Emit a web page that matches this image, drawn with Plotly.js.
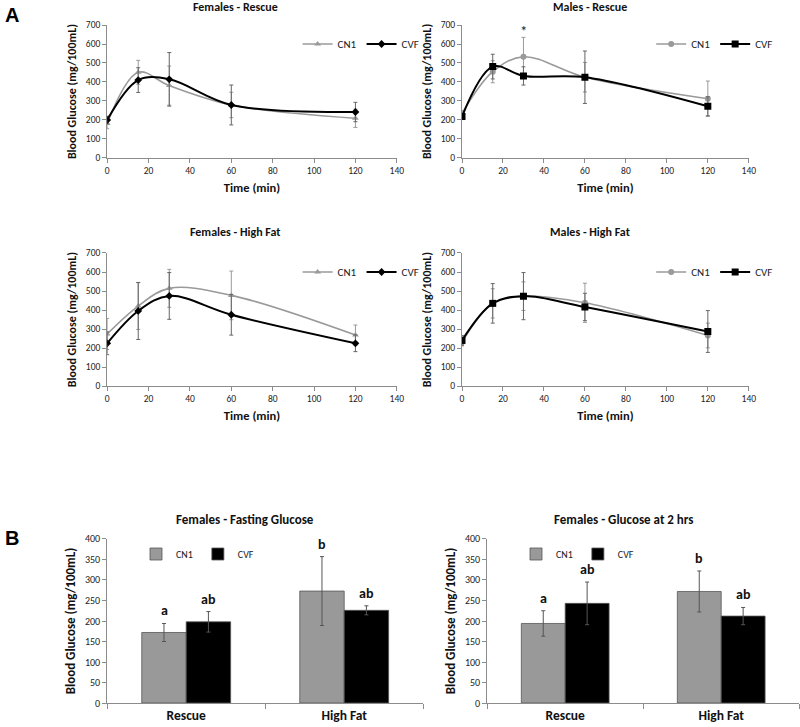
<!DOCTYPE html>
<html><head><meta charset="utf-8">
<script src="https://cdn.plot.ly/plotly-3.0.1.min.js"></script>
<style>html,body{margin:0;padding:0;background:#fff}#chart{width:800px;height:727px}</style>
</head><body><div id="chart"></div>
<script>
// ---- data ----
const times = [0, 15, 30, 60, 120];
const femRescueCN1 = [182, 451, 381, 279, 209];
const femRescueCN1Err = [28, 63, 103, 67, 48];
const femRescueCVF = [200, 410, 414, 279, 242];
const femRescueCVFErr = [20, 65, 141, 105, 51];
const maleRescueCN1 = [235, 454, 533, 425, 312];
const maleRescueCN1Err = [15, 58, 102, 78, 93];
const maleRescueCVF = [218, 481, 432, 425, 272];
const maleRescueCVFErr = [15, 65, 48, 138, 50];
const femHighFatCN1 = [274, 421, 514, 477, 268];
const femHighFatCN1Err = [82, 123, 100, 128, 53];
const femHighFatCVF = [225, 395, 474, 375, 225];
const femHighFatCVFErr = [60, 150, 123, 107, 44];
const maleHighFatCN1 = [231, 435, 473, 438, 266];
const maleHighFatCN1Err = [20, 77, 75, 103, 65];
const maleHighFatCVF = [240, 435, 473, 416, 287];
const maleHighFatCVFErr = [25, 104, 124, 72, 110];

const groups = ['Rescue', 'High Fat'];
const fastingCN1 = [172, 273];
const fastingCN1Err = [22, 84];
const fastingCVF = [198, 226];
const fastingCVFErr = [25, 11];
const twoHrCN1 = [194, 272];
const twoHrCN1Err = [31, 50];
const twoHrCVF = [243, 212];
const twoHrCVFErr = [52, 21];
const fastingLettersCN1 = ['a', 'b'];
const fastingLettersCVF = ['ab', 'ab'];
const twoHrLettersCN1 = ['a', 'b'];
const twoHrLettersCVF = ['ab', 'ab'];

// ---- style ----
const FONT = 'Carlito, Lato, "Liberation Sans", sans-serif';
const GREY = '#9a9a9a';
const AXC = '#8c8c8c';

function lineTrace(y, err, name, color, symbol, size, width, errColor, xa, ya, leg) {
  return {
    type: 'scatter', mode: 'lines+markers', x: times, y: y, name: name,
    xaxis: xa, yaxis: ya, legend: leg,
    line: {color: color, width: width, shape: 'spline', smoothing: 1},
    marker: {color: color, symbol: symbol, size: size},
    error_y: {type: 'data', array: err, visible: true, color: errColor, thickness: 1, width: 2}
  };
}
function barTrace(y, err, name, color, xa, ya, leg) {
  return {
    type: 'bar', x: groups, y: y, name: name, xaxis: xa, yaxis: ya, legend: leg,
    marker: {color: color, line: {color: '#555', width: 0.8}},
    error_y: {type: 'data', array: err, visible: true, color: '#555', thickness: 1, width: 2}
  };
}

const traces = [
  lineTrace(femRescueCN1, femRescueCN1Err, 'CN1', GREY, 'triangle-up', 6, 1.6, GREY, 'x', 'y', 'legend'),
  lineTrace(femRescueCVF, femRescueCVFErr, 'CVF', '#000', 'diamond', 6, 2, '#666', 'x', 'y', 'legend'),
  lineTrace(maleRescueCN1, maleRescueCN1Err, 'CN1', GREY, 'circle', 6, 1.6, GREY, 'x2', 'y2', 'legend2'),
  lineTrace(maleRescueCVF, maleRescueCVFErr, 'CVF', '#000', 'square', 7, 2, '#666', 'x2', 'y2', 'legend2'),
  lineTrace(femHighFatCN1, femHighFatCN1Err, 'CN1', GREY, 'triangle-up', 6, 1.6, GREY, 'x3', 'y3', 'legend3'),
  lineTrace(femHighFatCVF, femHighFatCVFErr, 'CVF', '#000', 'diamond', 6, 2, '#666', 'x3', 'y3', 'legend3'),
  lineTrace(maleHighFatCN1, maleHighFatCN1Err, 'CN1', GREY, 'circle', 6, 1.6, GREY, 'x4', 'y4', 'legend4'),
  lineTrace(maleHighFatCVF, maleHighFatCVFErr, 'CVF', '#000', 'square', 7, 2, '#666', 'x4', 'y4', 'legend4'),
  barTrace(fastingCN1, fastingCN1Err, 'CN1', '#999999', 'x5', 'y5', 'legend5'),
  barTrace(fastingCVF, fastingCVFErr, 'CVF', '#000000', 'x5', 'y5', 'legend5'),
  barTrace(twoHrCN1, twoHrCN1Err, 'CN1', '#999999', 'x6', 'y6', 'legend6'),
  barTrace(twoHrCVF, twoHrCVFErr, 'CVF', '#000000', 'x6', 'y6', 'legend6')
];

function xLine(dom, anchor) {
  return {domain: dom, anchor: anchor, range: [0, 140], dtick: 20, tick0: 0,
    showline: true, linecolor: AXC, linewidth: 1, ticks: 'outside', ticklen: 4, tickcolor: AXC,
    showgrid: false, zeroline: false, tickfont: {size: 9.5, color: '#222'},
    title: {text: '<b>Time (min)</b>', font: {size: 12.5, color: '#111'}, standoff: 6}};
}
function yLine(dom, anchor) {
  return {domain: dom, anchor: anchor, range: [0, 700], dtick: 100, tick0: 0,
    showline: true, linecolor: AXC, linewidth: 1, ticks: 'outside', ticklen: 4, tickcolor: AXC,
    showgrid: false, zeroline: false, tickfont: {size: 9.5, color: '#222'},
    title: {text: '<b>Blood Glucose (mg/100mL)</b>', font: {size: 12, color: '#111'}, standoff: 6}};
}
function xBar(dom, anchor) {
  return {domain: dom, anchor: anchor, type: 'category', tickson: 'boundaries',
    showline: true, linecolor: AXC, linewidth: 1, ticks: 'outside', ticklen: 5, tickcolor: AXC,
    showgrid: false, zeroline: false, tickfont: {size: 13.5, color: '#111', weight: 'bold'}};
}
function yBar(dom, anchor) {
  return {domain: dom, anchor: anchor, range: [0, 400], dtick: 50, tick0: 0,
    showline: true, linecolor: AXC, linewidth: 1, ticks: 'outside', ticklen: 4, tickcolor: AXC,
    showgrid: false, zeroline: false, tickfont: {size: 10, color: '#222'},
    title: {text: '<b>Blood Glucose (mg/100mL)</b>', font: {size: 13, color: '#111'}, standoff: 6}};
}
function leg(x, y, fs) {
  return {x: x, y: y, xanchor: 'left', yanchor: 'middle', orientation: 'h',
    bgcolor: 'rgba(0,0,0,0)', font: {size: fs, color: '#222'}, itemwidth: 30, tracegroupgap: 0};
}

const L1x = [0.134, 0.496], L2x = [0.5775, 0.936];
const topY = [0.7827, 0.9656], midY = [0.469, 0.652];
const barY = [0.033, 0.2586];

const annotations = [];
function title(text, x, y, size) {
  annotations.push({text: '<b>' + text + '</b>', xref: 'paper', yref: 'paper', x: x / 800, y: 1 - y / 727,
    xanchor: 'center', yanchor: 'middle', showarrow: false, font: {size: size, color: '#111'}});
}
title('Females - Rescue', 235, 7, 12);
title('Males - Rescue', 590, 7, 12);
title('Females - High Fat', 235, 232, 12);
title('Males - High Fat', 590, 232, 12);
title('Females - Fasting Glucose', 245, 519, 13);
title('Females - Glucose at 2 hrs', 623, 519, 13);
annotations.push({text: '<b>A</b>', xref: 'paper', yref: 'paper', x: 3 / 800, y: 1 - 15 / 727,
  xanchor: 'left', yanchor: 'middle', showarrow: false, font: {size: 20, color: '#000', family: 'Arial, "Liberation Sans", sans-serif'}});
annotations.push({text: '<b>B</b>', xref: 'paper', yref: 'paper', x: 3 / 800, y: 1 - 538 / 727,
  xanchor: 'left', yanchor: 'middle', showarrow: false, font: {size: 20, color: '#000', family: 'Arial, "Liberation Sans", sans-serif'}});
annotations.push({text: '*', xref: 'x2', yref: 'y2', x: times[2], y: maleRescueCN1[2] + maleRescueCN1Err[2],
  yanchor: 'bottom', yshift: -5, showarrow: false, font: {size: 15, color: '#111'}});

function letters(vals, errs, labs, off, xa, ya) {
  for (let i = 0; i < vals.length; i++) {
    annotations.push({text: '<b>' + labs[i] + '</b>', xref: xa, yref: ya, x: i + off, y: vals[i] + errs[i],
      yanchor: 'bottom', yshift: 2, showarrow: false, font: {size: 14, color: '#111'}});
  }
}
letters(fastingCN1, fastingCN1Err, fastingLettersCN1, -0.14, 'x5', 'y5');
letters(fastingCVF, fastingCVFErr, fastingLettersCVF, 0.14, 'x5', 'y5');
letters(twoHrCN1, twoHrCN1Err, twoHrLettersCN1, -0.14, 'x6', 'y6');
letters(twoHrCVF, twoHrCVFErr, twoHrLettersCVF, 0.14, 'x6', 'y6');

const layout = {
  width: 800, height: 727, margin: {l: 0, r: 0, t: 0, b: 0},
  paper_bgcolor: '#fff', plot_bgcolor: '#fff',
  font: {family: FONT, size: 10, color: '#222'},
  showlegend: true, barmode: 'group', bargap: 0.4375, bargroupgap: 0,
  xaxis: xLine(L1x, 'y'), yaxis: yLine(topY, 'x'),
  xaxis2: xLine(L2x, 'y2'), yaxis2: yLine(topY, 'x2'),
  xaxis3: xLine(L1x, 'y3'), yaxis3: yLine(midY, 'x3'),
  xaxis4: xLine(L2x, 'y4'), yaxis4: yLine(midY, 'x4'),
  xaxis5: xBar([0.134, 0.529], 'y5'), yaxis5: yBar(barY, 'x5'),
  xaxis6: xBar([0.609, 0.999], 'y6'), yaxis6: yBar(barY, 'x6'),
  legend: leg(0.372, 1 - 44 / 727, 11),
  legend2: leg(0.814, 1 - 44 / 727, 11),
  legend3: leg(0.372, 1 - 272 / 727, 11),
  legend4: leg(0.814, 1 - 272 / 727, 11),
  legend5: leg(0.17, 1 - 554 / 727, 10),
  legend6: leg(0.645, 1 - 554 / 727, 10),
  annotations: annotations
};

Plotly.newPlot('chart', traces, layout, {staticPlot: true, displayModeBar: false});
</script>
</body></html>
